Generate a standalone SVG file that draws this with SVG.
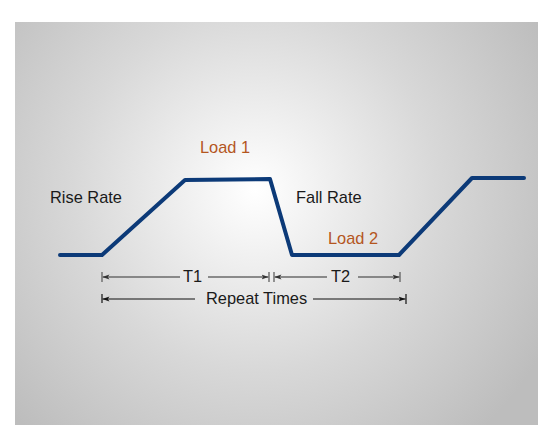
<svg xmlns="http://www.w3.org/2000/svg" width="558" height="447" viewBox="0 0 558 447">
  <defs>
    <radialGradient id="bg" cx="255" cy="190" r="330" gradientUnits="userSpaceOnUse">
      <stop offset="0" stop-color="#ffffff"/>
      <stop offset="0.55" stop-color="#d8d8d8"/>
      <stop offset="1" stop-color="#bdbdbd"/>
    </radialGradient>
    <marker id="arrG" viewBox="0 0 7 6" refX="7" refY="3" markerWidth="7" markerHeight="6" markerUnits="userSpaceOnUse" orient="auto-start-reverse">
      <path d="M0,0.5 L7,3 L0,5.5 L1.8,3 Z" fill="#333"/>
    </marker>
    <marker id="arrK" viewBox="0 0 7 6" refX="7" refY="3" markerWidth="7" markerHeight="6" markerUnits="userSpaceOnUse" orient="auto-start-reverse">
      <path d="M0,0.5 L7,3 L0,5.5 L1.8,3 Z" fill="#111"/>
    </marker>
  </defs>
  <style>
    .lbl { font-family: "Liberation Sans", Arial, sans-serif; font-size: 16.4px; fill: #1a1a1a; }
    .load { fill: #b4561e; }
    .dimG { stroke: #6a6a6a; stroke-width: 1.4; fill: none; }
    .dimK { stroke: #111; stroke-width: 1.1; fill: none; }
    .tickG { stroke: #6a6a6a; stroke-width: 1.4; }
    .tickK { stroke: #111; stroke-width: 1.2; }
    .wave { fill: none; stroke: #0c3a78; stroke-width: 4; stroke-linecap: round; stroke-linejoin: round; }
  </style>
  <rect x="15" y="22" width="523" height="403" fill="url(#bg)"/>

  <g id="waveform">
    <path class="wave" d="M60,255 L102,255 L185,180 L270,179 L292,255 L399,255 L472,178 L524,178"/>
  </g>

  <g id="labels">
    <text class="lbl load" x="200" y="153">Load 1</text>
    <text class="lbl" x="50" y="203">Rise Rate</text>
    <text class="lbl" x="296" y="203">Fall Rate</text>
    <text class="lbl load" x="328" y="244">Load 2</text>
  </g>

  <g id="connectors">
    <!-- T1 -->
    <line class="tickG" x1="102" y1="272" x2="102" y2="282"/>
    <line class="tickG" x1="269" y1="272" x2="269" y2="282"/>
    <line class="dimG" x1="180" y1="277" x2="102.5" y2="277" marker-end="url(#arrG)"/>
    <line class="dimG" x1="208" y1="277" x2="268.5" y2="277" marker-end="url(#arrG)"/>
    <!-- T2 -->
    <line class="tickG" x1="274" y1="272" x2="274" y2="282"/>
    <line class="tickG" x1="400" y1="272" x2="400" y2="282"/>
    <line class="dimG" x1="327" y1="277" x2="274.5" y2="277" marker-end="url(#arrG)"/>
    <line class="dimG" x1="358" y1="277" x2="399.5" y2="277" marker-end="url(#arrG)"/>
    <!-- Repeat -->
    <line class="tickK" x1="102" y1="294" x2="102" y2="303"/>
    <line class="tickK" x1="406" y1="294" x2="406" y2="304"/>
    <line class="dimK" x1="195" y1="299" x2="102.5" y2="299" marker-end="url(#arrK)"/>
    <line class="dimK" x1="313" y1="299" x2="405.5" y2="299" marker-end="url(#arrK)"/>
  </g>

  <g id="dim-labels">
    <text class="lbl" x="183" y="282">T1</text>
    <text class="lbl" x="331" y="282">T2</text>
    <text class="lbl" x="206" y="304">Repeat Times</text>
  </g>
</svg>
